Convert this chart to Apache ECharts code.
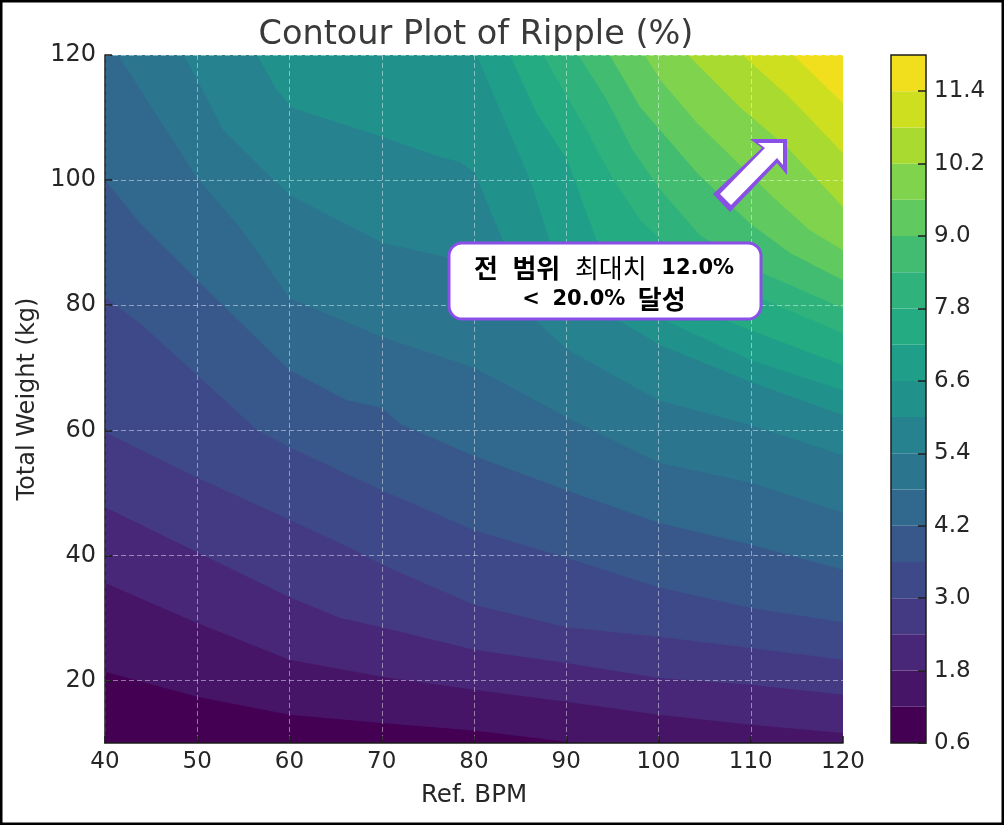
<!DOCTYPE html>
<html><head><meta charset="utf-8">
<style>html,body{margin:0;padding:0;background:#fff}#c{width:1004px;height:825px}</style>
<script src="https://cdn.jsdelivr.net/npm/echarts@6/dist/echarts.min.js"></script>
</head><body><div id="c"></div>
<script>
// Contour boundaries: [Ref. BPM, Total Weight]
const contour_1_2 = [[40,21.4],[50,17.4],[60,14.5],[70,13.2],[80,12],[90,10.2],[91.7,10]];
const contour_1_8 = [[40,35.6],[50,29.2],[60,23.3],[70,20.6],[80,18.5],[90,16.6],[100,14.5],[110,12.9],[120,11.6]];
const contour_2_4 = [[40,47.7],[50,40.5],[60,33.3],[65.5,30],[70,28.5],[80,24.9],[90,22.8],[100,20.4],[110,19.3],[120,17.7]];
const contour_3_0 = [[40,59.7],[50,52.4],[60,45.7],[67,40.9],[70,38.5],[80,32.1],[90,28.5],[100,27],[110,25.2],[120,23.3]];
const contour_3_6 = [[40,81.3],[43.8,77.1],[50,68.8],[53,64.8],[56.5,60],[60,57.3],[70,50.4],[80,44],[90,39.6],[100,34.9],[110,31.6],[120,29.3]];
const contour_4_2 = [[40,100],[43.8,93.1],[50,84],[60,69.6],[66.2,64.8],[70,63.6],[72,61],[80,55.9],[90,50.4],[100,45.2],[110,41.7],[120,37.7]];
const contour_4_8 = [[41.4,120],[50,100.3],[55,91.7],[60,81.1],[70,74.9],[80,70],[86,65.3],[90,62.1],[100,54.8],[110,51.6],[120,46.8]];
const contour_5_4 = [[48.5,120],[50,116],[52.8,108],[57.6,101],[60,97.6],[70,90],[80,86.7],[90,73],[100,64.8],[110,60.8],[120,56]];
const contour_6_0 = [[56.5,120],[58.6,114.4],[60.4,111.5],[70.1,106.9],[76.3,103.7],[78.5,102.9],[80.1,101.1],[83.1,90.4],[90.1,82.4],[100.2,73.6],[110,67.7],[120,62.4]];
const contour_6_6 = [[80.3,120],[83.6,108.5],[86.1,100],[88.2,90.4],[100.2,77.9],[110,71.2],[120,66.4]];
const contour_7_2 = [[83.9,120],[86.8,110.7],[90.1,103.2],[93.3,90.4],[100.2,82.4],[104.5,79.2],[110,76],[120,70.4]];
const contour_7_8 = [[87.5,120],[90.1,113.3],[92.2,108],[94.7,101.1],[98,93.6],[100.5,90.1],[111,81.1],[120,75.5]];
const contour_8_4 = [[91.3,120],[94.4,112.8],[97.2,104.8],[100.2,98.4],[104.5,91.2],[111,85.3],[120,79.5]];
const contour_9_0 = [[94.7,120],[98,111.7],[104.2,101.1],[109.9,93.1],[114.3,88.3],[120,84]];
const contour_9_6 = [[98.5,120],[100.2,116],[104.2,109.1],[112.4,97.3],[116.4,92],[120,88.8]];
const contour_10_2 = [[103.2,120],[108.8,111.7],[113.9,105.3],[120,95.7]];
const contour_10_8 = [[109.1,120],[114.3,113.1],[120,104.3]];
const contour_11_4 = [[114.6,120],[120,112.3]];
const contours = [[[40,10],[120,10]],contour_1_2,contour_1_8,contour_2_4,contour_3_0,contour_3_6,contour_4_2,contour_4_8,contour_5_4,contour_6_0,contour_6_6,contour_7_2,contour_7_8,contour_8_4,contour_9_0,contour_9_6,contour_10_2,contour_10_8,contour_11_4];

const bandEdges = [0.6,1.2,1.8,2.4,3.0,3.6,4.2,4.8,5.4,6.0,6.6,7.2,7.8,8.4,9.0,9.6,10.2,10.8,11.4,12.0];
const colorbarTicks = [0.6,1.8,3.0,4.2,5.4,6.6,7.8,9.0,10.2,11.4];
const weightTicks = [20,40,60,80,100,120];
const bandColors = ['#440154','#471567','#482778','#443a83','#3e4989','#38588c','#31688e','#2b758e','#26828e','#21918c','#1f9e89','#25ab82','#2fb27c','#42bc71','#60c960','#80d34d','#a9da30','#cedf1f','#f1df1e'];

const FONT = '"DejaVu Sans"';
const KR = '"Noto Sans CJK KR"';
const INK = '#262626';
const PURPLE = '#8a4fe6';
const xMin=40,xMax=120,yMin=10,yMax=120;

function fieldItem(params, api){
  const c = contours[api.value(0)];
  const pts = c.slice();
  const last = c[c.length-1], first = c[0];
  if (last[0] < xMax) pts.push([xMax,yMin]);
  pts.push([xMax,yMax]);
  if (first[1] < yMax) pts.push([xMin,yMax]);
  return {type:'polygon', shape:{points:pts.map(p=>api.coord(p))},
          style:{fill:bandColors[api.value(0)]}};
}
function barItem(params, api){
  const i = api.value(0);
  const a = api.coord([0,bandEdges[i]]), b = api.coord([1,bandEdges[i+1]]);
  return {type:'rect', shape:{x:a[0],y:b[1],width:b[0]-a[0],height:a[1]-b[1]}, style:{fill:bandColors[i]}};
}
function barFrame(params, api){
  const a = api.coord([0,bandEdges[0]]), b = api.coord([1,bandEdges[bandEdges.length-1]]);
  return {type:'rect', shape:{x:a[0],y:b[1],width:b[0]-a[0],height:a[1]-b[1]}, style:{fill:'none',stroke:'#1c1c1c',lineWidth:1.5}};
}

const chart = echarts.init(document.getElementById('c'), null, {renderer:'canvas'});
chart.setOption({
  animation:false,
  backgroundColor:'#fff',
  title:{text:'Contour Plot of Ripple (%)', left:471, top:13, textAlign:'center',
         textStyle:{fontFamily:FONT,fontSize:33.5,fontWeight:'normal',color:'#3a3a3a',align:'center'}},
  grid:[{left:105,top:55,width:738,height:688},{left:891,top:55,width:35,height:688}],
  xAxis:[
    {type:'value',gridIndex:0,min:xMin,max:xMax,interval:10,z:5,
     name:'Ref. BPM',nameLocation:'middle',nameGap:40,nameTextStyle:{fontFamily:FONT,fontSize:24.5,color:INK},
     axisLine:{show:true,onZero:false,lineStyle:{color:'#1c1c1c',width:1.5}},
     axisTick:{show:true,inside:true,length:7,lineStyle:{color:'#1c1c1c',width:1.5}},
     axisLabel:{margin:8,fontFamily:FONT,fontSize:23,color:INK,showMinLabel:true,showMaxLabel:true},
     splitLine:{show:true,lineStyle:{color:'rgba(255,255,255,0.45)',type:[5,3],width:1}}},
    {type:'value',gridIndex:1,min:0,max:1,show:false}
  ],
  yAxis:[
    {type:'value',gridIndex:0,min:yMin,max:yMax,z:5,
     name:'Total Weight (kg)',nameLocation:'middle',nameGap:64,nameRotate:90,nameTextStyle:{fontFamily:FONT,fontSize:24,color:INK},
     axisLine:{show:true,onZero:false,lineStyle:{color:'#1c1c1c',width:1.5}},
     axisTick:{show:true,inside:true,length:7,customValues:weightTicks,lineStyle:{color:'#1c1c1c',width:1.5}},
     axisLabel:{margin:9,padding:[5,0,0,0],fontFamily:FONT,fontSize:24,color:INK,customValues:weightTicks},
     splitLine:{show:true,lineStyle:{color:'rgba(255,255,255,0.45)',type:[5,3],width:1}}},
    {type:'value',gridIndex:1,min:0.6,max:12,position:'right',z:5,
     axisLine:{show:false,onZero:false},
     axisTick:{show:true,inside:true,length:8,customValues:colorbarTicks,lineStyle:{color:'#1c1c1c',width:1.5}},
     axisLabel:{margin:8,padding:[5,0,0,0],fontFamily:FONT,fontSize:23,color:INK,customValues:colorbarTicks,formatter:v=>v.toFixed(1)},
     splitLine:{show:false}}
  ],
  series:[
    {type:'custom',xAxisIndex:0,yAxisIndex:0,z:1,clip:true,silent:true,renderItem:fieldItem,
     data:contours.map((c,i)=>[i])},
    {type:'custom',xAxisIndex:1,yAxisIndex:1,z:1,silent:true,renderItem:barItem,
     data:bandColors.map((c,i)=>[i])},
    {type:'custom',xAxisIndex:1,yAxisIndex:1,z:2,silent:true,renderItem:barFrame,data:[[0]]}
  ],
  graphic:{elements:[
    {type:'rect',z:100,shape:{x:449,y:243,width:312,height:76,r:13},style:{fill:'#fff',stroke:PURPLE,lineWidth:3}},
    {type:'text',z:101,x:604,y:284,style:{
      text:'{kb|전}{sp|  }{kb|범위}{sp|  }{kr|최대치}{sp|  }{lb|12.0%}\n{lb|<}{sq|  }{lb|20.0%}{sq|  }{kb|달성}',align:'center',verticalAlign:'middle',
      rich:{kb:{fontFamily:KR,fontSize:26,fontWeight:'bold',fill:'#000',lineHeight:31},
            kr:{fontFamily:KR,fontSize:26,fontWeight:'normal',fill:'#000',lineHeight:31},
            lb:{fontFamily:FONT,fontSize:21,fontWeight:'bold',fill:'#000',lineHeight:31},
            sp:{fontFamily:FONT,fontSize:21,fontWeight:'bold',fill:'#000',lineHeight:31},
            sq:{fontFamily:FONT,fontSize:18,fontWeight:'bold',fill:'#000',lineHeight:31}}}},
    {type:'polygon',z:100,shape:{points:[[750,139],[787,139],[787,175],[777,163],[730,212],[713,194],[762,148]]},style:{fill:PURPLE}},
    {type:'polygon',z:101,shape:{points:[[758,143],[783,143],[783,165],[777,158],[731,205],[720,194],[765,148]]},style:{fill:'#fff'}},
    {type:'rect',z:110,shape:{x:0,y:0,width:1004,height:825},style:{fill:'none',stroke:'#000',lineWidth:5}}
  ]}
});
</script></body></html>
